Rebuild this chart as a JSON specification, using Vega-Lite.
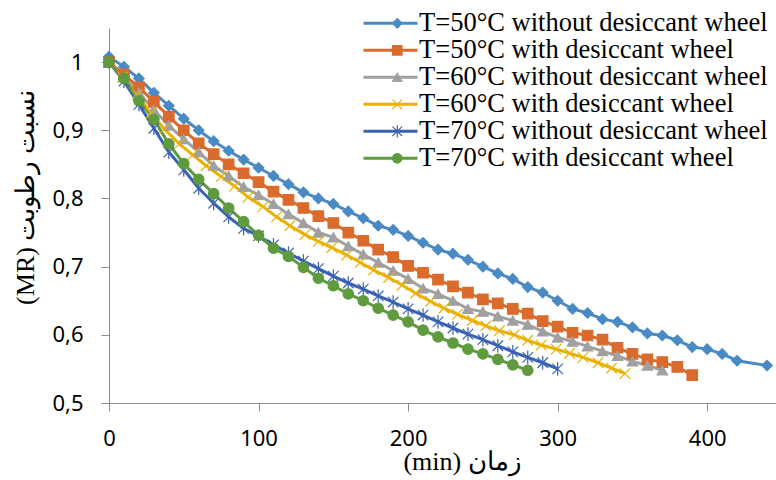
{
  "$schema": "https://vega.github.io/schema/vega-lite/v6.json",
  "width": 667,
  "height": 375,
  "autosize": {"type": "none"},
  "padding": {"left": 109, "top": 28, "right": 0, "bottom": 77},
  "background": "white",
  "config": {"view": {"stroke": null}},
  "datasets": {
    "mr": [
      {"s":"T=50°C without desiccant wheel","t":0,"mr":1.008},{"s":"T=50°C without desiccant wheel","t":10,"mr":0.993},{"s":"T=50°C without desiccant wheel","t":20,"mr":0.976},{"s":"T=50°C without desiccant wheel","t":30,"mr":0.955},{"s":"T=50°C without desiccant wheel","t":40,"mr":0.936},{"s":"T=50°C without desiccant wheel","t":50,"mr":0.917},{"s":"T=50°C without desiccant wheel","t":60,"mr":0.900},{"s":"T=50°C without desiccant wheel","t":70,"mr":0.884},{"s":"T=50°C without desiccant wheel","t":80,"mr":0.870},{"s":"T=50°C without desiccant wheel","t":90,"mr":0.857},{"s":"T=50°C without desiccant wheel","t":100,"mr":0.845},{"s":"T=50°C without desiccant wheel","t":110,"mr":0.833},{"s":"T=50°C without desiccant wheel","t":120,"mr":0.821},{"s":"T=50°C without desiccant wheel","t":130,"mr":0.809},{"s":"T=50°C without desiccant wheel","t":140,"mr":0.800},{"s":"T=50°C without desiccant wheel","t":150,"mr":0.792},{"s":"T=50°C without desiccant wheel","t":160,"mr":0.781},{"s":"T=50°C without desiccant wheel","t":170,"mr":0.771},{"s":"T=50°C without desiccant wheel","t":180,"mr":0.760},{"s":"T=50°C without desiccant wheel","t":190,"mr":0.754},{"s":"T=50°C without desiccant wheel","t":200,"mr":0.745},{"s":"T=50°C without desiccant wheel","t":210,"mr":0.735},{"s":"T=50°C without desiccant wheel","t":220,"mr":0.725},{"s":"T=50°C without desiccant wheel","t":230,"mr":0.719},{"s":"T=50°C without desiccant wheel","t":240,"mr":0.710},{"s":"T=50°C without desiccant wheel","t":250,"mr":0.700},{"s":"T=50°C without desiccant wheel","t":260,"mr":0.690},{"s":"T=50°C without desiccant wheel","t":270,"mr":0.682},{"s":"T=50°C without desiccant wheel","t":280,"mr":0.670},{"s":"T=50°C without desiccant wheel","t":290,"mr":0.662},{"s":"T=50°C without desiccant wheel","t":300,"mr":0.650},{"s":"T=50°C without desiccant wheel","t":310,"mr":0.638},{"s":"T=50°C without desiccant wheel","t":320,"mr":0.632},{"s":"T=50°C without desiccant wheel","t":330,"mr":0.623},{"s":"T=50°C without desiccant wheel","t":340,"mr":0.619},{"s":"T=50°C without desiccant wheel","t":350,"mr":0.611},{"s":"T=50°C without desiccant wheel","t":360,"mr":0.602},{"s":"T=50°C without desiccant wheel","t":370,"mr":0.599},{"s":"T=50°C without desiccant wheel","t":380,"mr":0.592},{"s":"T=50°C without desiccant wheel","t":390,"mr":0.582},{"s":"T=50°C without desiccant wheel","t":400,"mr":0.579},{"s":"T=50°C without desiccant wheel","t":410,"mr":0.572},{"s":"T=50°C without desiccant wheel","t":420,"mr":0.562},{"s":"T=50°C without desiccant wheel","t":440,"mr":0.555},
      {"s":"T=50°C with desiccant wheel","t":0,"mr":1.000},{"s":"T=50°C with desiccant wheel","t":10,"mr":0.982},{"s":"T=50°C with desiccant wheel","t":20,"mr":0.963},{"s":"T=50°C with desiccant wheel","t":30,"mr":0.942},{"s":"T=50°C with desiccant wheel","t":40,"mr":0.920},{"s":"T=50°C with desiccant wheel","t":50,"mr":0.900},{"s":"T=50°C with desiccant wheel","t":60,"mr":0.881},{"s":"T=50°C with desiccant wheel","t":70,"mr":0.865},{"s":"T=50°C with desiccant wheel","t":80,"mr":0.850},{"s":"T=50°C with desiccant wheel","t":90,"mr":0.837},{"s":"T=50°C with desiccant wheel","t":100,"mr":0.824},{"s":"T=50°C with desiccant wheel","t":110,"mr":0.810},{"s":"T=50°C with desiccant wheel","t":120,"mr":0.798},{"s":"T=50°C with desiccant wheel","t":130,"mr":0.786},{"s":"T=50°C with desiccant wheel","t":140,"mr":0.774},{"s":"T=50°C with desiccant wheel","t":150,"mr":0.764},{"s":"T=50°C with desiccant wheel","t":160,"mr":0.750},{"s":"T=50°C with desiccant wheel","t":170,"mr":0.738},{"s":"T=50°C with desiccant wheel","t":180,"mr":0.725},{"s":"T=50°C with desiccant wheel","t":190,"mr":0.714},{"s":"T=50°C with desiccant wheel","t":200,"mr":0.701},{"s":"T=50°C with desiccant wheel","t":210,"mr":0.691},{"s":"T=50°C with desiccant wheel","t":220,"mr":0.681},{"s":"T=50°C with desiccant wheel","t":230,"mr":0.671},{"s":"T=50°C with desiccant wheel","t":240,"mr":0.662},{"s":"T=50°C with desiccant wheel","t":250,"mr":0.652},{"s":"T=50°C with desiccant wheel","t":260,"mr":0.646},{"s":"T=50°C with desiccant wheel","t":270,"mr":0.638},{"s":"T=50°C with desiccant wheel","t":280,"mr":0.631},{"s":"T=50°C with desiccant wheel","t":290,"mr":0.620},{"s":"T=50°C with desiccant wheel","t":300,"mr":0.612},{"s":"T=50°C with desiccant wheel","t":310,"mr":0.603},{"s":"T=50°C with desiccant wheel","t":320,"mr":0.599},{"s":"T=50°C with desiccant wheel","t":330,"mr":0.593},{"s":"T=50°C with desiccant wheel","t":340,"mr":0.581},{"s":"T=50°C with desiccant wheel","t":350,"mr":0.572},{"s":"T=50°C with desiccant wheel","t":360,"mr":0.564},{"s":"T=50°C with desiccant wheel","t":370,"mr":0.560},{"s":"T=50°C with desiccant wheel","t":380,"mr":0.553},{"s":"T=50°C with desiccant wheel","t":390,"mr":0.541},
      {"s":"T=60°C without desiccant wheel","t":0,"mr":1.000},{"s":"T=60°C without desiccant wheel","t":10,"mr":0.978},{"s":"T=60°C without desiccant wheel","t":20,"mr":0.955},{"s":"T=60°C without desiccant wheel","t":30,"mr":0.930},{"s":"T=60°C without desiccant wheel","t":40,"mr":0.907},{"s":"T=60°C without desiccant wheel","t":50,"mr":0.887},{"s":"T=60°C without desiccant wheel","t":60,"mr":0.868},{"s":"T=60°C without desiccant wheel","t":70,"mr":0.848},{"s":"T=60°C without desiccant wheel","t":80,"mr":0.833},{"s":"T=60°C without desiccant wheel","t":90,"mr":0.817},{"s":"T=60°C without desiccant wheel","t":100,"mr":0.805},{"s":"T=60°C without desiccant wheel","t":110,"mr":0.792},{"s":"T=60°C without desiccant wheel","t":120,"mr":0.777},{"s":"T=60°C without desiccant wheel","t":130,"mr":0.764},{"s":"T=60°C without desiccant wheel","t":140,"mr":0.750},{"s":"T=60°C without desiccant wheel","t":150,"mr":0.743},{"s":"T=60°C without desiccant wheel","t":160,"mr":0.730},{"s":"T=60°C without desiccant wheel","t":170,"mr":0.718},{"s":"T=60°C without desiccant wheel","t":180,"mr":0.706},{"s":"T=60°C without desiccant wheel","t":190,"mr":0.694},{"s":"T=60°C without desiccant wheel","t":200,"mr":0.682},{"s":"T=60°C without desiccant wheel","t":210,"mr":0.668},{"s":"T=60°C without desiccant wheel","t":220,"mr":0.660},{"s":"T=60°C without desiccant wheel","t":230,"mr":0.650},{"s":"T=60°C without desiccant wheel","t":240,"mr":0.638},{"s":"T=60°C without desiccant wheel","t":250,"mr":0.634},{"s":"T=60°C without desiccant wheel","t":260,"mr":0.627},{"s":"T=60°C without desiccant wheel","t":270,"mr":0.621},{"s":"T=60°C without desiccant wheel","t":280,"mr":0.615},{"s":"T=60°C without desiccant wheel","t":290,"mr":0.605},{"s":"T=60°C without desiccant wheel","t":300,"mr":0.596},{"s":"T=60°C without desiccant wheel","t":310,"mr":0.590},{"s":"T=60°C without desiccant wheel","t":320,"mr":0.583},{"s":"T=60°C without desiccant wheel","t":330,"mr":0.576},{"s":"T=60°C without desiccant wheel","t":340,"mr":0.569},{"s":"T=60°C without desiccant wheel","t":350,"mr":0.561},{"s":"T=60°C without desiccant wheel","t":360,"mr":0.555},{"s":"T=60°C without desiccant wheel","t":370,"mr":0.548},
      {"s":"T=60°C with desiccant wheel","t":0,"mr":1.000},{"s":"T=60°C with desiccant wheel","t":9,"mr":0.978},{"s":"T=60°C with desiccant wheel","t":19,"mr":0.952},{"s":"T=60°C with desiccant wheel","t":28,"mr":0.925},{"s":"T=60°C with desiccant wheel","t":37,"mr":0.902},{"s":"T=60°C with desiccant wheel","t":47,"mr":0.880},{"s":"T=60°C with desiccant wheel","t":56,"mr":0.864},{"s":"T=60°C with desiccant wheel","t":65,"mr":0.848},{"s":"T=60°C with desiccant wheel","t":75,"mr":0.832},{"s":"T=60°C with desiccant wheel","t":84,"mr":0.818},{"s":"T=60°C with desiccant wheel","t":93,"mr":0.802},{"s":"T=60°C with desiccant wheel","t":103,"mr":0.788},{"s":"T=60°C with desiccant wheel","t":112,"mr":0.773},{"s":"T=60°C with desiccant wheel","t":121,"mr":0.760},{"s":"T=60°C with desiccant wheel","t":131,"mr":0.747},{"s":"T=60°C with desiccant wheel","t":140,"mr":0.737},{"s":"T=60°C with desiccant wheel","t":149,"mr":0.728},{"s":"T=60°C with desiccant wheel","t":159,"mr":0.717},{"s":"T=60°C with desiccant wheel","t":168,"mr":0.706},{"s":"T=60°C with desiccant wheel","t":177,"mr":0.695},{"s":"T=60°C with desiccant wheel","t":187,"mr":0.684},{"s":"T=60°C with desiccant wheel","t":196,"mr":0.673},{"s":"T=60°C with desiccant wheel","t":205,"mr":0.661},{"s":"T=60°C with desiccant wheel","t":215,"mr":0.649},{"s":"T=60°C with desiccant wheel","t":224,"mr":0.639},{"s":"T=60°C with desiccant wheel","t":233,"mr":0.630},{"s":"T=60°C with desiccant wheel","t":243,"mr":0.621},{"s":"T=60°C with desiccant wheel","t":252,"mr":0.613},{"s":"T=60°C with desiccant wheel","t":261,"mr":0.606},{"s":"T=60°C with desiccant wheel","t":271,"mr":0.600},{"s":"T=60°C with desiccant wheel","t":280,"mr":0.592},{"s":"T=60°C with desiccant wheel","t":289,"mr":0.585},{"s":"T=60°C with desiccant wheel","t":299,"mr":0.579},{"s":"T=60°C with desiccant wheel","t":308,"mr":0.573},{"s":"T=60°C with desiccant wheel","t":317,"mr":0.567},{"s":"T=60°C with desiccant wheel","t":327,"mr":0.559},{"s":"T=60°C with desiccant wheel","t":336,"mr":0.551},{"s":"T=60°C with desiccant wheel","t":345,"mr":0.543},
      {"s":"T=70°C without desiccant wheel","t":0,"mr":1.000},{"s":"T=70°C without desiccant wheel","t":10,"mr":0.972},{"s":"T=70°C without desiccant wheel","t":20,"mr":0.938},{"s":"T=70°C without desiccant wheel","t":30,"mr":0.903},{"s":"T=70°C without desiccant wheel","t":40,"mr":0.868},{"s":"T=70°C without desiccant wheel","t":50,"mr":0.842},{"s":"T=70°C without desiccant wheel","t":60,"mr":0.815},{"s":"T=70°C without desiccant wheel","t":70,"mr":0.793},{"s":"T=70°C without desiccant wheel","t":80,"mr":0.773},{"s":"T=70°C without desiccant wheel","t":90,"mr":0.756},{"s":"T=70°C without desiccant wheel","t":100,"mr":0.745},{"s":"T=70°C without desiccant wheel","t":110,"mr":0.732},{"s":"T=70°C without desiccant wheel","t":120,"mr":0.720},{"s":"T=70°C without desiccant wheel","t":130,"mr":0.708},{"s":"T=70°C without desiccant wheel","t":140,"mr":0.697},{"s":"T=70°C without desiccant wheel","t":150,"mr":0.686},{"s":"T=70°C without desiccant wheel","t":160,"mr":0.676},{"s":"T=70°C without desiccant wheel","t":170,"mr":0.667},{"s":"T=70°C without desiccant wheel","t":180,"mr":0.657},{"s":"T=70°C without desiccant wheel","t":190,"mr":0.648},{"s":"T=70°C without desiccant wheel","t":200,"mr":0.638},{"s":"T=70°C without desiccant wheel","t":210,"mr":0.629},{"s":"T=70°C without desiccant wheel","t":220,"mr":0.619},{"s":"T=70°C without desiccant wheel","t":230,"mr":0.610},{"s":"T=70°C without desiccant wheel","t":240,"mr":0.601},{"s":"T=70°C without desiccant wheel","t":250,"mr":0.593},{"s":"T=70°C without desiccant wheel","t":260,"mr":0.584},{"s":"T=70°C without desiccant wheel","t":270,"mr":0.575},{"s":"T=70°C without desiccant wheel","t":280,"mr":0.567},{"s":"T=70°C without desiccant wheel","t":290,"mr":0.559},{"s":"T=70°C without desiccant wheel","t":300,"mr":0.550},
      {"s":"T=70°C with desiccant wheel","t":0,"mr":1.000},{"s":"T=70°C with desiccant wheel","t":10,"mr":0.976},{"s":"T=70°C with desiccant wheel","t":20,"mr":0.943},{"s":"T=70°C with desiccant wheel","t":30,"mr":0.916},{"s":"T=70°C with desiccant wheel","t":40,"mr":0.880},{"s":"T=70°C with desiccant wheel","t":50,"mr":0.851},{"s":"T=70°C with desiccant wheel","t":60,"mr":0.828},{"s":"T=70°C with desiccant wheel","t":70,"mr":0.807},{"s":"T=70°C with desiccant wheel","t":80,"mr":0.786},{"s":"T=70°C with desiccant wheel","t":90,"mr":0.766},{"s":"T=70°C with desiccant wheel","t":100,"mr":0.746},{"s":"T=70°C with desiccant wheel","t":110,"mr":0.727},{"s":"T=70°C with desiccant wheel","t":120,"mr":0.715},{"s":"T=70°C with desiccant wheel","t":130,"mr":0.699},{"s":"T=70°C with desiccant wheel","t":140,"mr":0.683},{"s":"T=70°C with desiccant wheel","t":150,"mr":0.672},{"s":"T=70°C with desiccant wheel","t":160,"mr":0.660},{"s":"T=70°C with desiccant wheel","t":170,"mr":0.650},{"s":"T=70°C with desiccant wheel","t":180,"mr":0.639},{"s":"T=70°C with desiccant wheel","t":190,"mr":0.629},{"s":"T=70°C with desiccant wheel","t":200,"mr":0.619},{"s":"T=70°C with desiccant wheel","t":210,"mr":0.607},{"s":"T=70°C with desiccant wheel","t":220,"mr":0.597},{"s":"T=70°C with desiccant wheel","t":230,"mr":0.588},{"s":"T=70°C with desiccant wheel","t":240,"mr":0.579},{"s":"T=70°C with desiccant wheel","t":250,"mr":0.572},{"s":"T=70°C with desiccant wheel","t":260,"mr":0.564},{"s":"T=70°C with desiccant wheel","t":270,"mr":0.556},{"s":"T=70°C with desiccant wheel","t":280,"mr":0.548}
    ]
  },
  "data": {"name": "mr"},
  "encoding": {
    "x": {
      "field": "t", "type": "quantitative",
      "scale": {"domain": [0, 446], "nice": false, "zero": false},
      "axis": {
        "title": "(min) زمان",
        "values": [0, 100, 200, 300, 400],
        "grid": false,
        "domainColor": "#8c8c8c", "tickColor": "#8c8c8c", "tickSize": 8,
        "labelFont": "Noto Sans", "labelFontSize": 22, "labelColor": "#000000", "labelPadding": 17,
        "labelFlush": false,
        "titleFont": "Liberation Serif", "titleFontSize": 26, "titleFontWeight": "normal", "titleColor": "#000000",
        "titleX": 353, "titleY": 66, "titleBaseline": "alphabetic", "titleAlign": "center"
      }
    },
    "y": {
      "field": "mr", "type": "quantitative",
      "scale": {"domain": [0.5, 1.05], "nice": false, "zero": false},
      "axis": {
        "title": "(MR) نسبت رطوبت",
        "values": [0.5, 0.6, 0.7, 0.8, 0.9, 1],
        "labelExpr": "datum.value == 1 ? '1' : replace(format(datum.value, '.1f'), '.', ',')",
        "grid": false,
        "domainColor": "#8c8c8c", "tickColor": "#8c8c8c", "tickSize": 8,
        "labelFont": "Noto Sans", "labelFontSize": 22, "labelColor": "#000000", "labelPadding": 18,
        "labelFlush": false,
        "titleFont": "Liberation Serif", "titleFontSize": 26, "titleFontWeight": "normal", "titleColor": "#000000",
        "titleAngle": -90, "titleX": -84, "titleY": 169, "titleBaseline": "middle", "titleAlign": "center"
      }
    }
  },
  "layer": [
    {
      "mark": {"type": "line", "strokeWidth": 3},
      "encoding": {
        "color": {
          "field": "s", "type": "nominal",
          "sort": null,
          "scale": {"range": ["#4A8AC4", "#DA6B2C", "#A0A0A0", "#EBB100", "#3A62B3", "#5F9B3E"]},
          "legend": {
            "title": null, "orient": "none", "legendX": 253, "legendY": -18,
            "symbolType": "stroke", "symbolSize": 2916, "symbolStrokeWidth": 3,
            "clipHeight": 26.6, "rowPadding": 0, "padding": 0,
            "labelFont": "Liberation Serif", "labelFontSize": 26.5, "labelColor": "#000000", "labelOffset": 0, "labelLimit": 0
          }
        }
      }
    },
    {
      "mark": {"type": "point", "size": 110, "strokeWidth": 1.2, "opacity": 1, "fillOpacity": 1},
      "encoding": {
        "shape": {
          "field": "s", "type": "nominal",
          "scale": {
            "domain": ["T=50°C without desiccant wheel", "T=50°C with desiccant wheel", "T=60°C without desiccant wheel", "T=60°C with desiccant wheel", "T=70°C without desiccant wheel", "T=70°C with desiccant wheel"],
            "range": ["diamond", "square", "triangle-up", "M-1,-1L1,1M-1,1L1,-1", "M-1,-1L1,1M-1,1L1,-1M0,-1.3L0,1.3", "circle"]
          },
          "legend": {
            "title": null, "orient": "none", "legendX": 275, "legendY": -18,
            "symbolSize": 90, "symbolStrokeWidth": 1.2,
            "clipHeight": 26.6, "rowPadding": 0, "padding": 0,
            "labelExpr": "''", "labelFontSize": 26.5
          }
        },
        "fill": {
          "field": "s", "type": "nominal",
          "scale": {
            "domain": ["T=50°C without desiccant wheel", "T=50°C with desiccant wheel", "T=60°C without desiccant wheel", "T=60°C with desiccant wheel", "T=70°C without desiccant wheel", "T=70°C with desiccant wheel"],
            "range": ["#4A8AC4", "#DA6B2C", "#A0A0A0", "#EBB100", "#3A62B3", "#5F9B3E"]
          },
          "legend": {
            "title": null, "orient": "none", "legendX": 275, "legendY": -18,
            "symbolSize": 90, "symbolStrokeWidth": 1.2,
            "clipHeight": 26.6, "rowPadding": 0, "padding": 0,
            "labelExpr": "''", "labelFontSize": 26.5
          }
        },
        "stroke": {
          "field": "s", "type": "nominal",
          "scale": {
            "domain": ["T=50°C without desiccant wheel", "T=50°C with desiccant wheel", "T=60°C without desiccant wheel", "T=60°C with desiccant wheel", "T=70°C without desiccant wheel", "T=70°C with desiccant wheel"],
            "range": ["#4A8AC4", "#DA6B2C", "#A0A0A0", "#EBB100", "#3A62B3", "#5F9B3E"]
          },
          "legend": {
            "title": null, "orient": "none", "legendX": 275, "legendY": -18,
            "symbolSize": 90, "symbolStrokeWidth": 1.2,
            "clipHeight": 26.6, "rowPadding": 0, "padding": 0,
            "labelExpr": "''", "labelFontSize": 26.5
          }
        }
      }
    }
  ]
}
